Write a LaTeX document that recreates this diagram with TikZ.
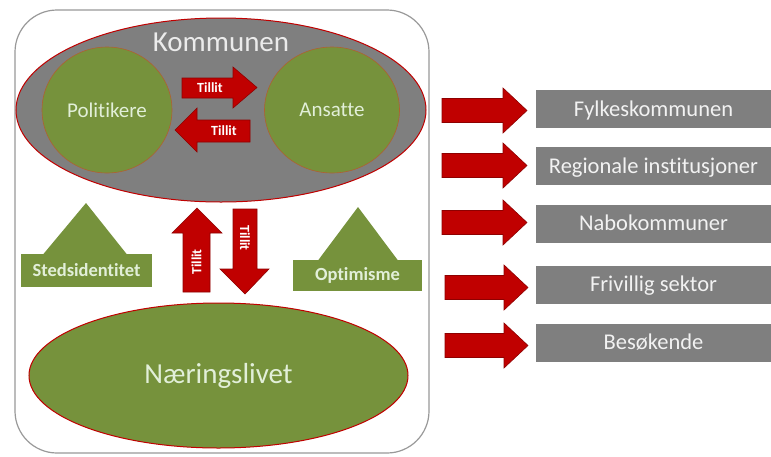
\documentclass[tikz,border=0pt]{standalone}
\usepackage{fontspec}
\setmainfont{Carlito}[Ligatures=NoCommon]
\usetikzlibrary{shapes.geometric}
\definecolor{kred}{HTML}{C00000}
\definecolor{kredd}{HTML}{8E0000}
\definecolor{kgray}{HTML}{7F7F7F}
\definecolor{kgreen}{HTML}{76923C}
\definecolor{kgtxt}{HTML}{E2EFD9}
\definecolor{kwtxt}{HTML}{F2F2F2}
\definecolor{kbrown}{HTML}{B06030}
\tikzset{
  blockarrow/.style={fill=kred, draw=kredd, line width=0.6pt, line join=miter},
  tillit/.style={text=white, font=\fontsize{14}{14}\selectfont\bfseries, inner sep=0pt},
  graybox/.style={fill=kgray, draw=none, minimum width=235pt, minimum height=38pt, inner sep=0pt,
    text height=17pt, text depth=2.5pt,
    text=kwtxt, font=\fontsize{22.5}{22.5}\selectfont},
}
\newcommand{\rarrow}[3]{% x start, tip x, center y
  \path[blockarrow] (#1,#3-12) -- (#2-24,#3-12) -- (#2-24,#3-22.5) -- (#2,#3) -- (#2-24,#3+22.5) -- (#2-24,#3+12) -- (#1,#3+12) -- cycle;}
\begin{document}
\begin{tikzpicture}[x=1pt,y=-1pt]
\useasboundingbox (0,0) rectangle (771,456);
\fill[white] (0,0) rectangle (771,456);
% outer frame
\draw[draw=black!40, line width=1.2pt, rounded corners=42pt] (15,10) rectangle (429,453);
% Kommunen
\node[ellipse, fill=kgray, draw=kred, line width=1pt, minimum width=410pt, minimum height=184pt, inner sep=0pt] (kommunen) at (221,110) {};
\node[text=black!8, font=\fontsize{29}{29}\selectfont, inner sep=0pt] (kommunenlbl) at (221,42) {Kommunen};
\node[ellipse, fill=kgreen, draw=kbrown, line width=0.6pt, minimum width=130pt, minimum height=126pt, inner sep=0pt,
  text=kgtxt, font=\fontsize{21}{21}\selectfont] (pol) at (107,110) {Politikere};
\node[ellipse, fill=kgreen, draw=kbrown, line width=0.6pt, minimum width=135pt, minimum height=126pt, inner sep=0pt,
  text=kgtxt, font=\fontsize{21}{21}\selectfont] (ans) at (332,110) {Ansatte};
% Tillit horizontal arrows
\path[blockarrow] (182,78) -- (233,78) -- (233,67) -- (257,87.5) -- (233,108) -- (233,98) -- (182,98) -- cycle;
\node[tillit] (t1) at (210,88) {Tillit};
\path[blockarrow] (250,120) -- (197,120) -- (197,108) -- (175,130) -- (197,152) -- (197,142) -- (250,142) -- cycle;
\node[tillit] (t2) at (224,131) {Tillit};
% Tillit vertical arrows
\path[blockarrow] (183,292) -- (183,233) -- (172,233) -- (197,208) -- (222,233) -- (210,233) -- (210,292) -- cycle;
\node[tillit, rotate=90] (t3) at (196.5,262) {Tillit};
\path[blockarrow] (233,209) -- (257,209) -- (257,269) -- (269,269) -- (245,294) -- (220,269) -- (233,269) -- cycle;
\node[tillit, rotate=-90] (t4) at (245,238) {Tillit};
% Stedsidentitet
\fill[kgreen] (43,254.5) -- (86,203) -- (127,254.5) -- cycle;
\node[fill=kgreen, minimum width=131pt, minimum height=33pt, inner sep=0pt, text=kgtxt,
  font=\fontsize{18.5}{18.5}\selectfont\bfseries] (sted) at (86.5,270.5) {Stedsidentitet};
% Optimisme
\fill[kgreen] (318,260.5) -- (358,207) -- (398,260.5) -- cycle;
\node[fill=kgreen, minimum width=129pt, minimum height=31pt, inner sep=0pt, text=kgtxt,
  font=\fontsize{18.5}{18.5}\selectfont\bfseries] (opt) at (357.5,275.5) {Optimisme};
% Naeringslivet
\node[ellipse, fill=kgreen, draw=kred, line width=1pt, minimum width=379pt, minimum height=145pt, inner sep=0pt,
  text=kgtxt, font=\fontsize{29}{29}\selectfont] (naer) at (218.5,375.5) {Næringslivet};
% right side
\rarrow{442}{527}{110.5}
\rarrow{442}{527}{165.5}
\rarrow{442}{527}{222.5}
\rarrow{445}{528}{287.5}
\rarrow{445}{528}{345.5}
\node[graybox] (b1) at (653.5,109) {Fylkeskommunen};
\node[graybox] (b2) at (653.5,166) {Regionale institusjoner};
\node[graybox] (b3) at (653.5,223.5) {Nabokommuner};
\node[graybox] (b4) at (653.5,284.5) {Frivillig sektor};
\node[graybox] (b5) at (653.5,342.5) {Besøkende};
\end{tikzpicture}
\end{document}
